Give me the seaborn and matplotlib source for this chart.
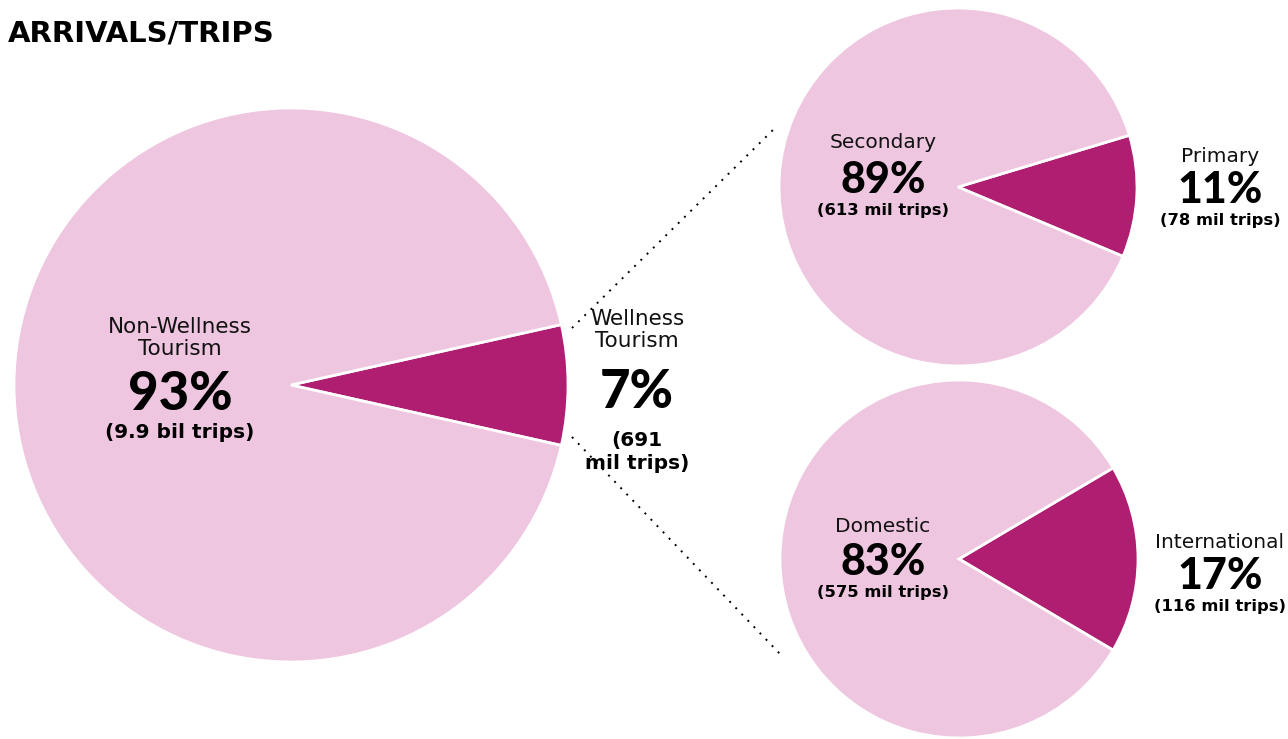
import matplotlib
matplotlib.use("Agg")
import matplotlib.pyplot as plt
import seaborn as sns

# pie data (percent shares)
main_labels = ["Wellness Tourism", "Non-Wellness Tourism"]
main_share = [7, 93]
purpose_labels = ["Primary", "Secondary"]
purpose_share = [11, 89]
origin_labels = ["International", "Domestic"]
origin_share = [17, 83]

trips_text = {
    "Non-Wellness Tourism": "(9.9 bil trips)",
    "Wellness Tourism": "(691\nmil trips)",
    "Secondary": "(613 mil trips)",
    "Primary": "(78 mil trips)",
    "Domestic": "(575 mil trips)",
    "International": "(116 mil trips)",
}

sns.set_theme(style="white")
plt.rcParams["font.family"] = ["Lato", "DejaVu Sans"]

dark = "#B01E72"
light = "#EFC6DF"

W, H = 1288, 739
fig = plt.figure(figsize=(W / 100, H / 100), dpi=100)
ax = fig.add_axes([0, 0, 1, 1])


def py(y):
    # convert pixel row (from top) to data y
    return H - y


def draw_pie(values, cx, cy, r, offset=0):
    start = -360 * values[0] / 100 / 2 + offset
    ax.pie(values, colors=[dark, light], startangle=start, center=(cx, py(cy)),
           radius=r, frame=True,
           wedgeprops=dict(edgecolor="white", linewidth=2))


draw_pie(main_share, 291, 385, 277)
draw_pie(purpose_share, 958, 187, 179, offset=-3)
draw_pie(origin_share, 959, 559, 179)

ax.set_xlim(0, W)
ax.set_ylim(0, H)
ax.set_aspect("equal")
ax.axis("off")

# dotted connectors
ax.plot([572, 775], [py(328), py(128)], color="black", linestyle=(0, (1, 3.5)), linewidth=1.4)
ax.plot([572, 781], [py(437), py(655)], color="black", linestyle=(0, (1, 3.5)), linewidth=1.4)


def block(x, y_name, y_pct, y_trips, name, pct, trips, name_size=15.5, pct_size=38, trips_size=14.5):
    ax.text(x, py(y_name), name, ha="center", va="center", fontsize=name_size,
            family="DejaVu Sans", linespacing=1.12, color="#111111")
    ax.text(x, py(y_pct), f"{pct}%", ha="center", va="center", fontsize=pct_size,
            fontweight="black", color="black")
    ax.text(x, py(y_trips), trips, ha="center", va="center", fontsize=trips_size,
            family="DejaVu Sans", fontweight="bold", color="black", linespacing=1.25)


block(180, 338, 395, 432, "Non-Wellness\nTourism", main_share[1], trips_text["Non-Wellness Tourism"])
block(637, 330, 392, 452, "Wellness\nTourism", main_share[0], trips_text["Wellness Tourism"])
block(883, 143, 180, 211, "Secondary", purpose_share[1], trips_text["Secondary"], 14.5, 31, 11.8)
block(1220, 157, 190, 220, "Primary", purpose_share[0], trips_text["Primary"], 14.5, 31, 11.8)
block(883, 526, 562, 592, "Domestic", origin_share[1], trips_text["Domestic"], 14.5, 31, 11.8)
block(1220, 542, 576, 606, "International", origin_share[0], trips_text["International"], 14.5, 31, 11.8)

ax.text(8, py(33), "ARRIVALS/TRIPS", ha="left", va="center", fontsize=21,
        family="DejaVu Sans", fontweight="bold", color="black")

fig.savefig("out.png", dpi=100)
